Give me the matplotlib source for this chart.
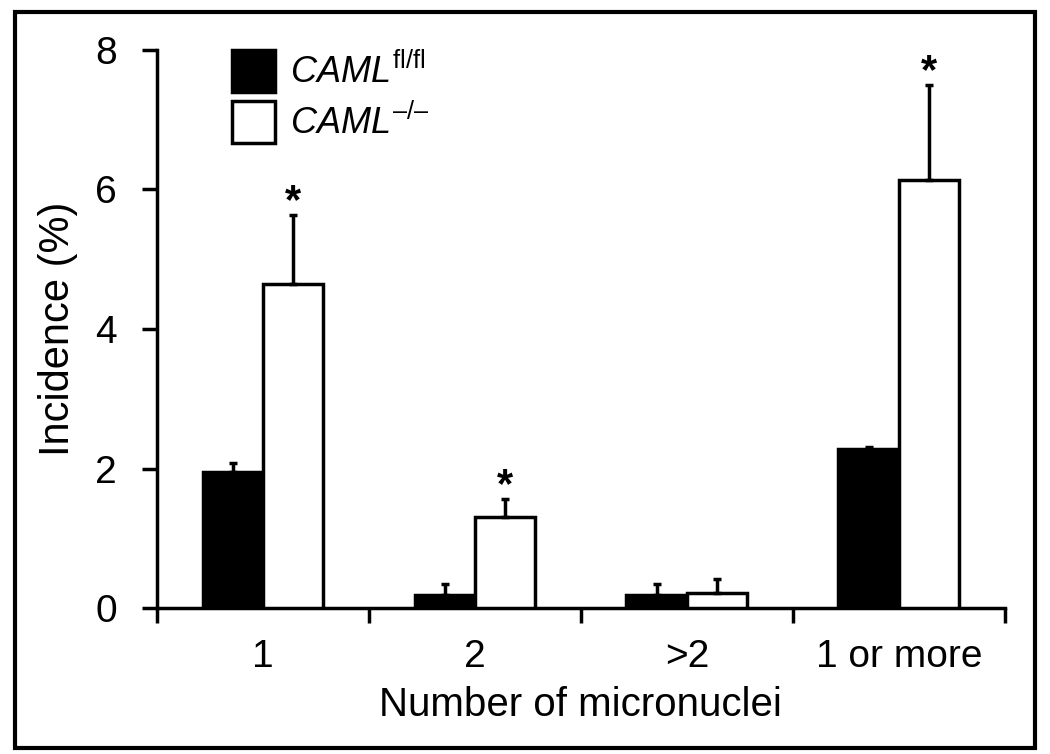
import matplotlib
matplotlib.use('Agg')
import matplotlib.pyplot as plt
import numpy as np
from matplotlib.patches import Rectangle

categories = ['1', '2', '>2', '1 or more']
flfl = [1.95, 0.19, 0.19, 2.28]
flfl_err = [0.13, 0.16, 0.16, 0.03]
ko = [4.65, 1.30, 0.21, 6.13]
ko_err = [0.98, 0.26, 0.20, 1.37]
signif = [True, True, False, True]

plt.rcParams['font.family'] = ['Liberation Sans', 'DejaVu Sans']
plt.rcParams['mathtext.fontset'] = 'custom'
plt.rcParams['mathtext.rm'] = 'Liberation Sans'
plt.rcParams['mathtext.it'] = 'Liberation Sans:italic'

fig = plt.figure(figsize=(10.5, 7.54), dpi=100)
ax = fig.add_axes([0.1495, 0.1936, 0.8075, 0.7401])

x = np.arange(len(categories))
w = 0.285
lw = 2.5
ekw = dict(ecolor='black', elinewidth=lw, capsize=3, capthick=lw)
ax.bar(x - w / 2, flfl, w, color='black', edgecolor='black', linewidth=lw,
       yerr=[np.zeros(4), flfl_err], error_kw=ekw,
       label=r'$\it{CAML}^{\rm fl/fl}$', zorder=3)
ax.bar(x + w / 2, ko, w, color='white', edgecolor='black', linewidth=lw,
       yerr=[np.zeros(4), ko_err], error_kw=ekw,
       label='$\\it{CAML}^{\\rm \u2013/\u2013}$', zorder=3)

for i in range(len(categories)):
    if signif[i]:
        ax.text(x[i] + w / 2, ko[i] + ko_err[i] + 0.03, '*', ha='center', va='baseline',
                fontsize=30, fontweight='bold')

ax.set_xlim(-0.5, 3.5)
ax.set_ylim(0, 8)
ax.set_yticks([0, 2, 4, 6, 8])
ax.set_xticks(np.arange(-0.5, 4, 1))
ax.set_xticklabels([])
ax.set_xticks(x, minor=True)
ax.set_xticklabels(categories, minor=True)
ax.tick_params(axis='x', which='minor', length=0, pad=22, labelsize=28)
ax.tick_params(axis='x', which='major', length=11, width=lw, direction='out')
ax.tick_params(axis='y', length=11, width=lw, direction='out', labelsize=28, pad=18)
for s in ['top', 'right']:
    ax.spines[s].set_visible(False)
for s in ['left', 'bottom']:
    ax.spines[s].set_linewidth(lw)

ax.set_xlabel('Number of micronuclei', fontsize=29, labelpad=8)
ax.set_ylabel('Incidence (%)', fontsize=30, labelpad=12)

ax.legend(loc='upper left', bbox_to_anchor=(232 / 1050, 1 - 50 / 754), bbox_transform=fig.transFigure,
          frameon=False, fontsize=26, borderpad=0, borderaxespad=0,
          handlelength=1.19, handleheight=1.4, handletextpad=0.42, labelspacing=0.26)

fig.patches.append(Rectangle((15 / 1050, 6 / 754), 1020 / 1050, 736 / 754, transform=fig.transFigure,
                             fill=False, edgecolor='black', linewidth=3))

fig.savefig('out.png', dpi=100)
